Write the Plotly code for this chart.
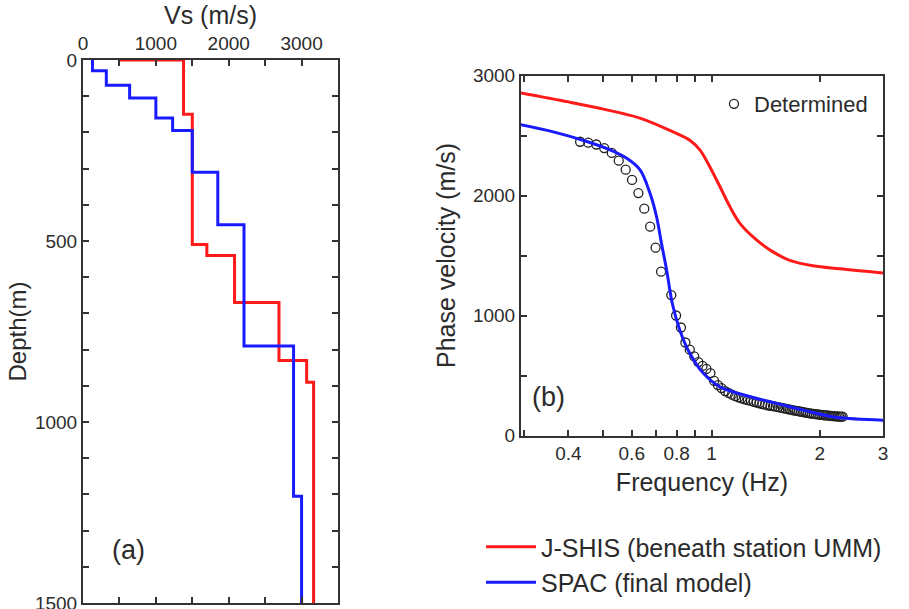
import plotly.graph_objects as go

# (a) Vs profiles: layer top depth (m) and Vs (m/s)
jshis_top = [0, 0, 150, 510, 540, 670, 830, 890]
jshis_vs = [490, 1380, 1500, 1700, 2080, 2690, 3070, 3165]
spac_top = [0, 30, 70, 105, 160, 195, 310, 455, 790, 1205]
spac_vs = [130, 320, 640, 1000, 1230, 1500, 1850, 2210, 2890, 3000]
max_depth = 1500

# (b) dispersion curves
jshis_freq = [0.295, 0.4, 0.5, 0.632, 0.782, 0.87, 0.928, 0.989, 1.055, 1.126,
              1.198, 1.334, 1.483, 1.65, 1.915, 2.27, 3.0]
jshis_pv = [2855, 2780, 2720, 2645, 2530, 2460, 2380, 2240, 2075, 1905,
            1770, 1630, 1530, 1460, 1415, 1390, 1355]

spac_freq = [0.294, 0.363, 0.45, 0.522, 0.581, 0.632, 0.674, 0.703, 0.726, 0.75,
             0.778, 0.816, 0.87, 0.948, 1.055, 1.224, 1.516, 1.875, 2.22, 3.0]
spac_pv = [2590, 2530, 2450, 2380, 2310, 2215, 2020, 1825, 1600, 1380,
           1100, 880, 685, 520, 405, 340, 268, 198, 152, 128]

obs_freq = [0.431, 0.454, 0.478, 0.503, 0.528, 0.552, 0.577, 0.601, 0.626, 0.650,
            0.675, 0.699, 0.724, 0.773, 0.797, 0.822, 0.846, 0.870, 0.895, 0.919,
            0.944, 0.968, 0.993, 1.017, 1.042, 1.066, 1.091, 1.115, 1.140, 1.164,
            1.189, 1.213, 1.238, 1.262, 1.287, 1.311, 1.336, 1.360, 1.385, 1.410,
            1.434, 1.459, 1.483, 1.508, 1.532, 1.557, 1.581, 1.606, 1.630, 1.655,
            1.680, 1.704, 1.729, 1.753, 1.778, 1.802, 1.827, 1.851, 1.876, 1.900,
            1.925, 1.949, 1.974, 1.998, 2.023, 2.047, 2.072, 2.096, 2.121, 2.145,
            2.170, 2.195, 2.219, 2.244, 2.268, 2.293, 2.317]
obs_pv = [2448, 2440, 2425, 2395, 2355, 2290, 2215, 2130, 2020, 1890,
          1740, 1565, 1365, 1170, 1000, 900, 775, 715, 660, 612,
          580, 555, 520, 455, 420, 395, 370, 355, 340, 328,
          318, 310, 302, 295, 288, 281, 274, 268, 262, 257,
          252, 248, 244, 240, 236, 232, 228, 224, 220, 216,
          212, 208, 205, 201, 198, 194, 191, 188, 185, 182,
          180, 178, 176, 174, 172, 170, 168, 167, 165, 164,
          162, 161, 160, 159, 158, 157, 157]

RED = "#ff1a1a"
BLUE = "#1a1aff"
INK = "#2b2b2b"
FONT = "Liberation Sans, Arial, sans-serif"

fig = go.Figure()

fig.add_trace(go.Scatter(
    x=jshis_vs + [jshis_vs[-1]], y=jshis_top + [max_depth],
    mode="lines", line=dict(color=RED, width=3, shape="vh"),
    xaxis="x", yaxis="y", showlegend=False,
))
fig.add_trace(go.Scatter(
    x=spac_vs + [spac_vs[-1]], y=spac_top + [max_depth],
    mode="lines", line=dict(color=BLUE, width=3, shape="vh"),
    xaxis="x", yaxis="y", showlegend=False,
))

fig.add_trace(go.Scatter(
    x=jshis_freq, y=jshis_pv, mode="lines",
    line=dict(color=RED, width=3, shape="spline"),
    name="J-SHIS (beneath station UMM)", legend="legend2",
    xaxis="x2", yaxis="y2",
))
fig.add_trace(go.Scatter(
    x=obs_freq, y=obs_pv, mode="markers",
    marker=dict(symbol="circle-open", size=9, color="#222", line=dict(width=1.3)),
    name="Determined", legend="legend",
    xaxis="x2", yaxis="y2",
))
fig.add_trace(go.Scatter(
    x=spac_freq, y=spac_pv, mode="lines",
    line=dict(color=BLUE, width=3, shape="spline"),
    name="SPAC (final model)", legend="legend2",
    xaxis="x2", yaxis="y2",
))

frame = dict(showline=True, linecolor="#333", linewidth=2, mirror="ticks",
             ticks="inside", ticklen=6, tickwidth=1.5, tickcolor="#333",
             showgrid=False, zeroline=False, automargin=False,
             ticklabeloverflow="allow",
             tickfont=dict(size=19, color=INK, family=FONT))
minor_tick = dict(ticks="inside", ticklen=6, tickwidth=1.5, tickcolor="#333")

fig.update_layout(
    width=909, height=609,
    margin=dict(l=0, r=0, t=0, b=0),
    plot_bgcolor="white", paper_bgcolor="white",
    font=dict(family=FONT, color=INK),
    xaxis=dict(frame, domain=[83 / 909, 338 / 909], side="top", range=[0, 3500],
               tickvals=[0, 1000, 2000, 3000],
               minor=dict(minor_tick, tickvals=[500, 1500, 2500]),
               title=dict(text="Vs (m/s)", font=dict(size=25), standoff=2)),
    yaxis=dict(frame, domain=[1 - 603 / 609, 1 - 60 / 609], range=[1500, 0],
               tickvals=[0, 500, 1000, 1500],
               minor=dict(minor_tick, dtick=100),
               title=dict(text="Depth(m)", font=dict(size=24), standoff=2)),
    xaxis2=dict(frame, domain=[521 / 909, 883 / 909], type="log",
                range=[-0.53, 0.4771], anchor="y2",
                tickvals=[0.3, 0.4, 0.5, 0.6, 0.7, 0.8, 0.9, 1, 2, 3],
                ticktext=["", "0.4", "", "0.6", "", "0.8", "", "1", "2", "3"],
                title=dict(text="Frequency (Hz)", font=dict(size=25), standoff=10)),
    yaxis2=dict(frame, domain=[1 - 435.5 / 609, 1 - 75.5 / 609], range=[0, 3000],
                anchor="x2", dtick=1000,
                minor=dict(minor_tick, dtick=500),
                title=dict(text="Phase velocity (m/s)", font=dict(size=25), standoff=10)),
    legend=dict(x=714 / 909, y=1 - 104 / 609, xanchor="left", yanchor="middle",
                bgcolor="rgba(0,0,0,0)", font=dict(size=22, color=INK)),
    legend2=dict(x=481 / 909, y=1 - 524 / 609, xanchor="left", yanchor="top",
                 bgcolor="rgba(0,0,0,0)", font=dict(size=25, color=INK),
                 itemwidth=50, tracegroupgap=0),
    annotations=[
        dict(text="(a)", x=110 / 909, y=1 - 567 / 609, xref="paper", yref="paper",
             showarrow=False, font=dict(size=27, color=INK)),
        dict(text="(b)", x=548 / 909, y=1 - 397 / 609, xref="paper", yref="paper",
             showarrow=False, font=dict(size=27, color=INK)),
    ],
)

# the page's default 8px body margin would push the figure off the window
fig.write_html("out.html", config={"displayModeBar": False},
               post_script="document.body.style.margin = '0';")
